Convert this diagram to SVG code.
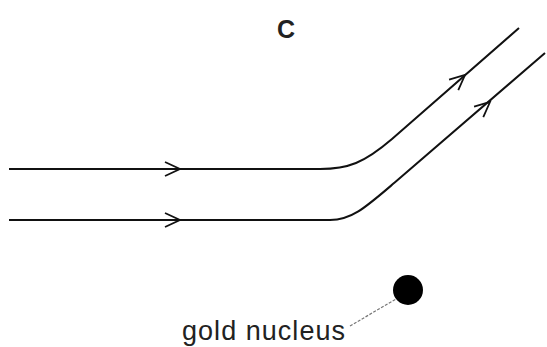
<svg xmlns="http://www.w3.org/2000/svg" width="547" height="347" viewBox="0 0 547 347">
<style>
.path{fill:none;stroke:#111;stroke-width:2}
.arr{fill:none;stroke:#111;stroke-width:1.8;stroke-linejoin:miter}
.lead{fill:none;stroke:#777;stroke-width:1.2;stroke-dasharray:3 1.5}
.lbl{font-family:"Liberation Sans",Arial,sans-serif;fill:#222}
</style>
<defs>
<path id="chev" d="M-15,-7 L0,0 L-15,7" class="arr"/>
</defs>
<rect width="547" height="347" fill="#fff"/>
<g id="label-c"><text class="lbl" x="286" y="38" font-size="25" font-weight="bold" text-anchor="middle">C</text></g>
<g id="connectors">
<path class="path" d="M9,169 H320 C348,169 364,163 392,139 L519,28"/>
<path class="path" d="M9,220 H330 C352,220 366,207 395,182.3 L545,53"/>
<use href="#chev" transform="translate(180,169)"/>
<use href="#chev" transform="translate(180,220)"/>
<use href="#chev" transform="translate(465,75) rotate(-41)"/>
<use href="#chev" transform="translate(490,102) rotate(-41)"/>
<path class="lead" d="M350,326 L396,299"/>
</g>
<g id="nucleus"><circle cx="408" cy="290" r="15" fill="#000"/></g>
<g id="label-gold"><text class="lbl" x="182" y="340" font-size="27" textLength="163" lengthAdjust="spacing">gold nucleus</text></g>
</svg>
